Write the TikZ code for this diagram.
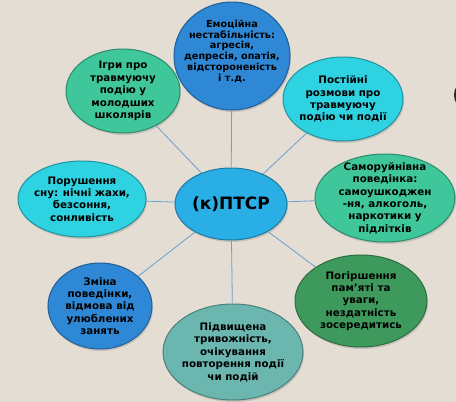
\documentclass[tikz,border=0pt]{standalone}
\usepackage{fontspec}
\setmainfont{DejaVu Sans}
\usepackage{tikz}
\usetikzlibrary{shapes.geometric,shadows}
\definecolor{paper}{HTML}{E3DDD3}
\definecolor{linkblue}{HTML}{6C9FD2}
\definecolor{seablue}{HTML}{2F88D6}
\definecolor{mintgreen}{HTML}{3FC79B}
\definecolor{aqua}{HTML}{2FD2E0}
\definecolor{skyblue}{HTML}{29AEE6}
\definecolor{forest}{HTML}{3E9A5C}
\definecolor{greyteal}{HTML}{6CB6B0}
\tikzset{
  bubble/.style={ellipse, fill=#1, draw=#1!70!black, line width=1pt,
    inner xsep=-30pt, inner ysep=-20pt, align=center,
    font=\bfseries\fontsize{10.3}{12.4}\selectfont,
    drop shadow={opacity=0.3, shadow xshift=1pt, shadow yshift=-2pt}},
  bubble/.default=aqua,
  link/.style={draw=linkblue, line width=0.8pt},
}

\begin{document}
\begin{tikzpicture}[x=1pt, y=-1pt]
    \useasboundingbox (0,0) rectangle (456,402);
    \fill[paper] (0,0) rectangle (456,402);

    \node[bubble=skyblue, minimum width=112pt, minimum height=72pt,
      font=\bfseries\fontsize{17}{20}\selectfont] (ptsr) at (231,204) {(к)ПТСР};
    \node[bubble=seablue, minimum width=116pt, minimum height=108pt,
      font=\bfseries\fontsize{9.7}{10.8}\selectfont] (emo) at (232,56)
      {Емоційна\\ нестабільність:\\ агресія,\\ депресія, опатія,\\ відстороненість\\ і т.д.\\ \mbox{}};
    \node[bubble=mintgreen, minimum width=114pt, minimum height=84pt] (games) at (123,91)
      {Ігри про\\ травмуючу\\ подію у\\ молодших\\ школярів};
    \node[bubble=aqua, minimum width=120pt, minimum height=84pt] (talk) at (343,99)
      {Постійні\\ розмови про\\ травмуючу\\ подію чи події};
    \node[bubble=mintgreen, minimum width=140pt, minimum height=88pt] (harm) at (385,198)
      {Саморуйнівна\\ поведінка:\\ самоушкоджен\\ -ня, алкоголь,\\ наркотики у\\ підлітків};
    \node[bubble=aqua, minimum width=128pt, minimum height=76pt] (sleep) at (82,199)
      {Порушення\\ сну: нічні жахи,\\ безсоння,\\ сонливість};
    \node[bubble=forest, minimum width=132pt, minimum height=92pt] (memory) at (361,301)
      {Погіршення\\ пам’яті та\\ уваги,\\ нездатність\\ зосередитись};
    \node[bubble=seablue, minimum width=104pt, minimum height=86pt] (habits) at (100,306)
      {Зміна\\ поведінки,\\ відмова від\\ улюблених\\ занять};
    \node[bubble=greyteal, minimum width=140pt, minimum height=96pt] (anxiety) at (233,352)
      {Підвищена\\ тривожність,\\ очікування\\ повторення події\\ чи подій};

    \draw[link] (ptsr) -- (emo);
    \draw[link] (ptsr) -- (games);
    \draw[link] (ptsr) -- (talk);
    \draw[link] (ptsr) -- (harm);
    \draw[link] (ptsr) -- (sleep);
    \draw[link] (ptsr) -- (memory);
    \draw[link] (ptsr) -- (habits);
    \draw[link] (ptsr) -- (anxiety);

    % cut-off dark shape at the right edge
    \begin{scope}
      \clip (0,0) rectangle (456,402);
      \fill[black!85] (464,95) ellipse [x radius=10, y radius=13];
    \end{scope}
  \end{tikzpicture}
\end{document}
